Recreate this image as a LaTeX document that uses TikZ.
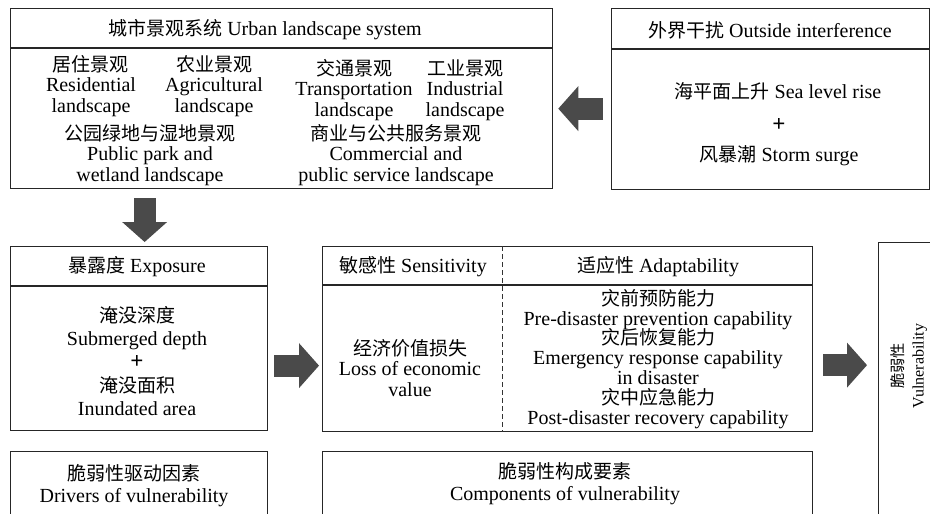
\documentclass[tikz,border=0pt]{standalone}
\usepackage{fontspec}
\setmainfont{Liberation Serif}
\newfontfamily\cjk[Scale=0.95]{Noto Sans CJK SC}
\usetikzlibrary{arrows.meta}

\definecolor{arrgray}{RGB}{74,74,74}

\begin{document}
\lineskiplimit=-50pt
\begin{tikzpicture}[
  x=1pt, y=-1pt,
  box/.style={draw=black!85,line width=1.3pt,anchor=north west,inner sep=0pt},
  sep/.style={draw=black!85,line width=1.3pt},
  divd/.style={draw=black!80,line width=1pt,dash pattern=on 5pt off 3pt},
  lbl/.style={align=center,inner sep=0pt,font=\fontsize{20}{20.5}\selectfont},
  plus/.style={font=\fontsize{23}{23}\selectfont\bfseries},
  blk/.style={draw=arrgray,line width=22pt,
              -{Triangle[length=20pt,width=45pt,line width=0pt]}}
]

\useasboundingbox (0,0) rectangle (930,514);
\clip (0,0) rectangle (930,514);

% ---- urban landscape system ----
\node[box,minimum width=542pt,minimum height=180pt] (urban) at (10,8) {};
\draw[sep] ([yshift=-40pt]urban.north west) -- ([yshift=-40pt]urban.north east);
\node[lbl] (urbanttl) at (265,30) {{\cjk 城市景观系统} Urban landscape system};
\node[lbl] (resid) at (91,86)  {{\cjk 居住景观}\\Residential\\landscape};
\node[lbl] (agri)  at (214,86) {{\cjk 农业景观}\\Agricultural\\landscape};
\node[lbl] (trans) at (354,90) {{\cjk 交通景观}\\Transportation\\landscape};
\node[lbl] (indus) at (465,90) {{\cjk 工业景观}\\Industrial\\landscape};
\node[lbl] (park)  at (150,155) {{\cjk 公园绿地与湿地景观}\\Public park and\\wetland landscape};
\node[lbl] (comm)  at (396,155) {{\cjk 商业与公共服务景观}\\Commercial and\\public service landscape};

% ---- outside interference ----
\node[box,minimum width=318pt,minimum height=181pt] (outside) at (611,8) {};
\draw[sep] ([yshift=-41pt]outside.north west) -- ([yshift=-41pt]outside.north east);
\node[lbl] (outsidettl) at (770,30) {{\cjk 外界干扰} Outside interference};
\node[lbl] (sealevel) at (778,91)  {{\cjk 海平面上升} Sea level rise};
\node[lbl,plus] (plusa) at (779,125) {+};
\node[lbl] (storm)    at (779,156) {{\cjk 风暴潮} Storm surge};

% ---- exposure ----
\node[box,minimum width=257pt,minimum height=184pt] (exposure) at (10,246) {};
\draw[sep] ([yshift=-40pt]exposure.north west) -- ([yshift=-40pt]exposure.north east);
\node[lbl] (exposurettl) at (137,267) {{\cjk 暴露度} Exposure};
\node[lbl,font=\fontsize{20}{23.3}\selectfont] (exposurebody) at (137,361)
  {{\cjk 淹没深度}\\Submerged depth\\{\fontsize{23}{23}\selectfont\bfseries +}\\{\cjk 淹没面积}\\Inundated area};

% ---- sensitivity | adaptability ----
\node[box,minimum width=490pt,minimum height=185pt] (middle) at (322,246) {};
\draw[sep] ([yshift=-39pt]middle.north west) -- ([yshift=-39pt]middle.north east);
\draw[divd] ([xshift=180pt]middle.north west) -- ([xshift=180pt]middle.south west);
\node[lbl] (sensttl) at (413,267) {{\cjk 敏感性} Sensitivity};
\node[lbl] (adapttl) at (658,267) {{\cjk 适应性} Adaptability};
\node[lbl] (econ) at (410,368) {{\cjk 经济价值损失}\\Loss of economic\\value};
\node[lbl,font=\fontsize{20}{19.9}\selectfont] (adapbody) at (658,359)
  {{\cjk 灾前预防能力}\\Pre-disaster prevention capability\\
   {\cjk 灾后恢复能力}\\Emergency response capability\\in disaster\\
   {\cjk 灾中应急能力}\\Post-disaster recovery capability};

% ---- bottom captions ----
\node[box,minimum width=257pt,minimum height=100pt] (drivers) at (10,451) {};
\node[lbl,font=\fontsize{20}{22}\selectfont] (driversttl) at (134,486)
  {{\cjk 脆弱性驱动因素}\\Drivers of vulnerability};
\node[box,minimum width=490pt,minimum height=100pt] (comp) at (322,451) {};
\node[lbl,font=\fontsize{20}{22}\selectfont] (compttl) at (565,484)
  {{\cjk 脆弱性构成要素}\\Components of vulnerability};

% ---- vulnerability ----
\node[box,minimum width=100pt,minimum height=320pt] (vuln) at (878,242) {};
\node[lbl,font=\fontsize{16}{20}\selectfont,rotate=90] (vulnttl) at (909,366)
  {{\cjk 脆弱性}\\Vulnerability};

% ---- block arrows ----
\draw[blk,shorten <=8pt,shorten >=5pt] ([yshift=-9.5pt]outside.west) -- ([yshift=-9.5pt]outside.west -| urban.east);
\draw[blk,shorten <=9pt,shorten >=4pt] ([xshift=5.5pt]exposure.north |- urban.south) -- ([xshift=5.5pt]exposure.north);
\draw[blk,shorten <=6pt,shorten >=3pt] ([yshift=-27pt]exposure.east) -- ([yshift=-27pt]exposure.east -| middle.west);
\draw[blk,shorten <=10pt,shorten >=11pt] ([yshift=-26pt]middle.east) -- ([yshift=-26pt]middle.east -| vuln.west);

\end{tikzpicture}
\end{document}
